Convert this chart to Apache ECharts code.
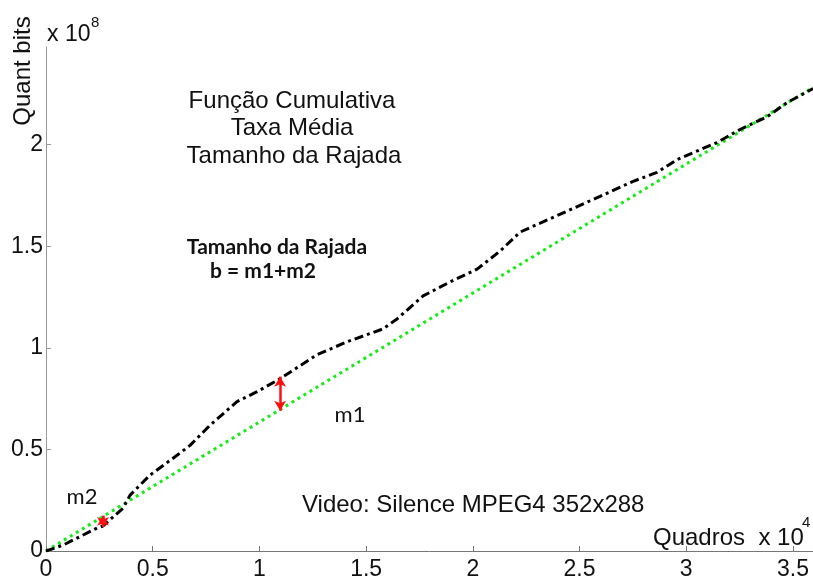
<!DOCTYPE html>
<html><head><meta charset="utf-8">
<script src="https://cdn.jsdelivr.net/npm/echarts@6/dist/echarts.min.js"></script>
<style>html,body{margin:0;padding:0;background:#fff}#c{width:813px;height:581px}</style>
</head><body><div id="c"></div>
<script>
// Cumulative bits (x 1e8) vs frames (x 1e4)
const frames = [0, 0.080, 0.239, 0.267, 0.361, 0.394, 0.487, 0.614, 0.675, 0.768, 0.895, 0.989, 1.097, 1.270, 1.410, 1.579, 1.645, 1.767, 1.893, 2.020, 2.127, 2.221, 2.441, 2.596, 2.751, 2.863, 2.957, 3.144, 3.252, 3.379, 3.472, 3.594];
const cumulativeBits = [0, 0.029, 0.113, 0.123, 0.211, 0.275, 0.373, 0.471, 0.520, 0.618, 0.735, 0.784, 0.848, 0.966, 1.029, 1.093, 1.142, 1.255, 1.324, 1.387, 1.475, 1.569, 1.672, 1.745, 1.819, 1.863, 1.926, 2.010, 2.074, 2.137, 2.206, 2.275];
const avgRateFrames = [0, 3.594];
const avgRateBits = [0, 2.281];
const xTicks = [0, 0.5, 1, 1.5, 2, 2.5, 3, 3.5];
const yTicks = [0, 0.5, 1, 1.5, 2];
const xMax = 3.594;
const yMax = 2.48;
const arrowM1 = [1.097, 0.858, 0.690];
const arrowM2 = [0.267, 0.118, 0.174];

const font = 'Liberation Sans, Arial, sans-serif';
const calFont = 'Lato, sans-serif';
const chart = echarts.init(document.getElementById('c'));
const zip = (a, b) => a.map((v, i) => [v, b[i]]);
const arrowLine = (a) => [{coord: [a[0], a[1]]}, {coord: [a[0], a[2]]}];
const txt = (x, y, text, f, align) => ({type: 'text', x, y, style: {text, font: f, fill: '#111', textAlign: align || 'center', textVerticalAlign: 'middle'}});

chart.setOption({
  animation: false,
  backgroundColor: '#fff',
  grid: {left: 46, top: 47, width: 767, height: 506},
  xAxis: {
    type: 'value', min: 0, max: xMax,
    axisLine: {lineStyle: {color: '#777', width: 1}},
    axisTick: {show: true, inside: true, length: 5, customValues: xTicks, lineStyle: {color: '#777'}},
    axisLabel: {customValues: xTicks, formatter: v => String(v), color: '#111', fontSize: 23, fontFamily: font, margin: 7},
    splitLine: {show: false}
  },
  yAxis: {
    type: 'value', min: 0, max: yMax,
    axisLine: {show: true, lineStyle: {color: '#999', width: 1}},
    axisTick: {show: true, inside: true, length: 5, customValues: yTicks, lineStyle: {color: '#999'}},
    axisLabel: {customValues: yTicks, formatter: v => String(v), color: '#111', fontSize: 23, fontFamily: font, margin: 3},
    splitLine: {show: false}
  },
  series: [
    {
      type: 'line', data: zip(avgRateFrames, avgRateBits), symbol: 'none',
      lineStyle: {color: '#11ee11', width: 3, type: [3, 4], cap: 'butt'}, z: 2
    },
    {
      type: 'line', data: zip(frames, cumulativeBits), symbol: 'none',
      lineStyle: {color: '#000', width: 3, type: [9, 4, 3, 4]}, z: 3,
      markLine: {
        silent: true, symbol: ['arrow', 'arrow'], symbolSize: [9, 10],
        label: {show: false},
        lineStyle: {color: '#ff1010', width: 2.5, type: 'solid'},
        data: [arrowLine(arrowM1), arrowLine(arrowM2)]
      }
    }
  ],
  graphic: [
    txt(292, 101, 'Função Cumulativa', '24px ' + font),
    txt(292, 128, 'Taxa Média', '24px ' + font),
    txt(294, 156, 'Tamanho da Rajada', '24px ' + font),
    txt(277, 247, 'Tamanho da Rajada', 'bold 21px ' + calFont),
    txt(263, 271, 'b = m1+m2', 'bold 21px ' + calFont),
    txt(350, 415, 'm1', '22px ' + calFont),
    txt(82, 497, 'm2', '22px ' + calFont),
    txt(302, 505, 'Video: Silence MPEG4 352x288', '24px ' + font, 'left'),
    txt(653, 538, 'Quadros  x 10', '24px ' + font, 'left'),
    txt(802, 523, '4', '15px ' + font, 'left'),
    txt(47, 35, 'x 10', '23px ' + font, 'left'),
    txt(91, 23, '8', '15px ' + font, 'left'),
    {type: 'text', x: 23, y: 71, rotation: Math.PI / 2, style: {text: 'Quant bits', font: '24px ' + font, fill: '#111', textAlign: 'center', textVerticalAlign: 'middle'}}
  ]
});
</script></body></html>
